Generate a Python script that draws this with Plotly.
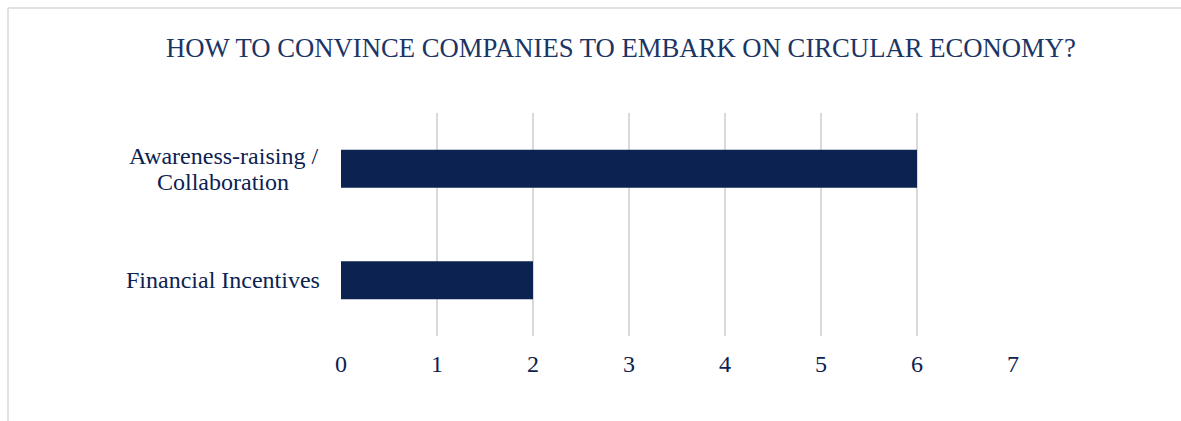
import plotly.graph_objects as go

# Survey responses
categories = ["Awareness-raising /<br>Collaboration", "Financial Incentives"]
counts = [6, 2]
x_ticks = [0, 1, 2, 3, 4, 5, 6, 7]

W, H = 1181, 421
NAVY = "#0c2250"
TITLE_COLOR = "#1b3564"
GRID = "#d9d9d9"
FONT = "Liberation Serif, Times New Roman, serif"
LABEL_SIZE = 24
LINE_GAP = 26       # pixels between stacked label lines
LABEL_CENTER = 223  # horizontal centre of the category label column (px)

L, R, T, B = 341, 168, 113, 85
pw = W - L - R
ph = H - T - B


def px_x(px):
    return (px - L) / pw


def px_y(py):
    return (H - B - py) / ph


fig = go.Figure(
    go.Bar(
        y=categories,
        x=counts,
        orientation="h",
        marker=dict(color=NAVY, line=dict(width=0)),
        width=0.34,
    )
)

# Category labels: centred lines with tight spacing, level with each bar
annotations = []
for cat in categories:
    lines = cat.split("<br>")
    n = len(lines)
    for i, line in enumerate(lines):
        annotations.append(dict(
            x=px_x(LABEL_CENTER), xref="paper", y=cat, yref="y",
            text=line, showarrow=False,
            xanchor="center", yanchor="middle",
            yshift=((n - 1) / 2 - i) * LINE_GAP,
            font=dict(family=FONT, size=LABEL_SIZE, color=NAVY),
        ))

# Light frame along the top and left edges of the chart
shapes = [
    dict(type="line", xref="paper", yref="paper",
         x0=px_x(8), x1=px_x(1190), y0=px_y(8), y1=px_y(8),
         line=dict(color=GRID, width=1.5)),
    dict(type="line", xref="paper", yref="paper",
         x0=px_x(8), x1=px_x(8), y0=px_y(8), y1=px_y(430),
         line=dict(color=GRID, width=1.5)),
]

fig.update_layout(
    width=W, height=H,
    margin=dict(l=L, r=R, t=T, b=B),
    paper_bgcolor="white",
    plot_bgcolor="white",
    showlegend=False,
    title=dict(
        text="HOW TO CONVINCE COMPANIES TO EMBARK ON CIRCULAR ECONOMY?",
        x=621 / W, xref="container", xanchor="center",
        y=1 - 48 / H, yref="container", yanchor="middle",
        font=dict(family=FONT, size=26.7, color=TITLE_COLOR),
    ),
    xaxis=dict(
        range=[0, 7],
        tickvals=x_ticks,
        showgrid=True, gridcolor=GRID, gridwidth=2,
        zeroline=False, showline=False, ticks="",
        ticklabelstandoff=11,
        tickfont=dict(family=FONT, size=LABEL_SIZE, color=NAVY),
    ),
    yaxis=dict(
        categoryorder="array", categoryarray=categories[::-1],
        range=[-0.5, 1.5],
        showticklabels=False, showgrid=False, zeroline=False,
        showline=False, ticks="",
    ),
    annotations=annotations,
    shapes=shapes,
)

fig.write_html("out.html")
